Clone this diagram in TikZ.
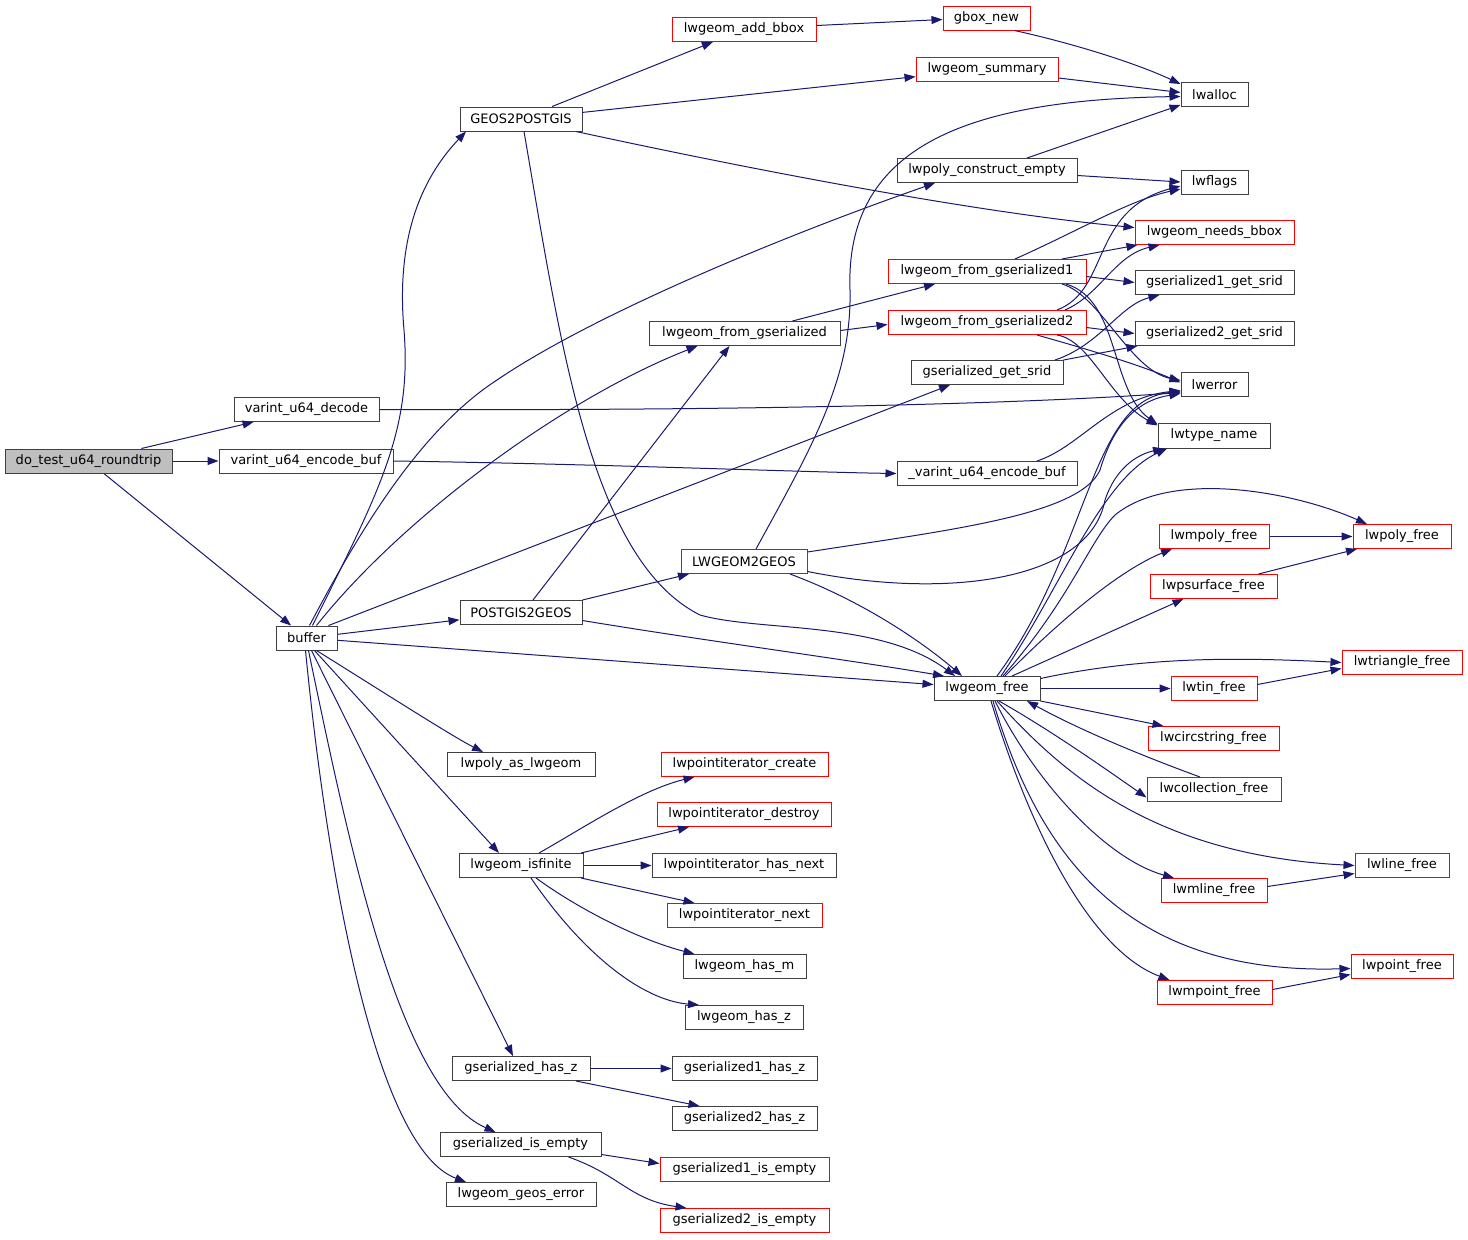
\documentclass[tikz,border=0pt]{standalone}
\usepackage{fontspec}
\setmainfont{DejaVu Sans}
\usetikzlibrary{arrows.meta}
\definecolor{edgecol}{RGB}{25,25,112}
\definecolor{rootfill}{RGB}{191,191,191}
\begin{document}
\begin{tikzpicture}[x=1pt,y=-1pt,
  box/.style={draw=black!75, line width=1pt, minimum height=24pt, inner sep=0pt, fill=white, font=\fontsize{13}{15}\selectfont},
  rbox/.style={box, draw=red},
  e/.style={draw=edgecol, line width=1pt, -{Triangle[length=11pt,width=8pt]}},
]
\useasboundingbox (0,0) rectangle (1468,1240);
% nodes
\node[box, fill=rootfill, minimum width=167pt] (do) at (88.5,461) {do\_test\_u64\_roundtrip};
\node[box, minimum width=145pt] (vdec) at (306.5,409.5) {varint\_u64\_decode};
\node[box, minimum width=174pt] (venc) at (306,461) {varint\_u64\_encode\_buf};
\node[box, minimum width=61pt] (buffer) at (306.5,638) {buffer};
\node[box, minimum width=122pt] (g2p) at (521,119) {GEOS2POSTGIS};
\node[rbox, minimum width=144pt] (addbbox) at (744,29.5) {lwgeom\_add\_bbox};
\node[rbox, minimum width=87pt] (gboxnew) at (986.5,18) {gbox\_new};
\node[rbox, minimum width=142pt] (summary) at (987,69) {lwgeom\_summary};
\node[box, minimum width=67pt] (lwalloc) at (1214.5,94.5) {lwalloc};
\node[box, minimum width=180pt] (pce) at (987,170.5) {lwpoly\_construct\_empty};
\node[box, minimum width=67pt] (lwflags) at (1214.5,182) {lwflags};
\node[rbox, minimum width=159pt] (needsbbox) at (1214.5,232.5) {lwgeom\_needs\_bbox};
\node[rbox, minimum width=198pt] (fg1) at (987,271.5) {lwgeom\_from\_gserialized1};
\node[box, minimum width=159pt] (g1srid) at (1214.5,282.5) {gserialized1\_get\_srid};
\node[box, minimum width=191pt] (fg) at (744.5,333.5) {lwgeom\_from\_gserialized};
\node[rbox, minimum width=198pt] (fg2) at (987,322.5) {lwgeom\_from\_gserialized2};
\node[box, minimum width=159pt] (g2srid) at (1214.5,333.5) {gserialized2\_get\_srid};
\node[box, minimum width=152pt] (gsrid) at (987,372.5) {gserialized\_get\_srid};
\node[box, minimum width=67pt] (lwerror) at (1214.5,384.5) {lwerror};
\node[box, minimum width=112pt, minimum height=25pt] (lwtype) at (1214,435.5) {lwtype\_name};
\node[box, minimum width=180pt] (uenc) at (987,473.5) {\_varint\_u64\_encode\_buf};
\node[rbox, minimum width=126pt] (l2g) at (744,561.5) {LWGEOM2GEOS};
\node[box, minimum width=122pt] (p2g) at (521,612.5) {POSTGIS2GEOS};
\node[box, minimum width=106pt] (lwfree) at (987,688.5) {lwgeom\_free};
\node[rbox, minimum width=110pt] (mpoly) at (1214,536.5) {lwmpoly\_free};
\node[rbox, minimum width=98pt] (poly) at (1402,536.5) {lwpoly\_free};
\node[rbox, minimum width=127pt] (psurf) at (1213.5,586.5) {lwpsurface\_free};
\node[rbox, minimum width=120pt] (tri) at (1402,662.5) {lwtriangle\_free};
\node[rbox, minimum width=86pt] (tin) at (1214,688.5) {lwtin\_free};
\node[rbox, minimum width=131pt] (circ) at (1213.5,738.5) {lwcircstring\_free};
\node[rbox, minimum width=134pt] (coll) at (1214,789.5) {lwcollection\_free};
\node[rbox, minimum width=94pt] (line) at (1402,865.5) {lwline\_free};
\node[rbox, minimum width=106pt] (mline) at (1214,890.5) {lwmline\_free};
\node[rbox, minimum width=102pt] (point) at (1402,966.5) {lwpoint\_free};
\node[rbox, minimum width=115pt] (mpoint) at (1214.5,992.5) {lwmpoint\_free};
\node[box, minimum width=148pt] (pasl) at (521,764.5) {lwpoly\_as\_lwgeom};
\node[box, minimum width=124pt] (isfin) at (521,865.5) {lwgeom\_isfinite};
\node[rbox, minimum width=167pt] (picreate) at (744.5,764.5) {lwpointiterator\_create};
\node[rbox, minimum width=174pt] (pidestroy) at (744,814.5) {lwpointiterator\_destroy};
\node[box, minimum width=184pt] (pihasnext) at (744,865.5) {lwpointiterator\_has\_next};
\node[rbox, minimum width=155pt] (pinext) at (744.5,915.5) {lwpointiterator\_next};
\node[box, minimum width=123pt] (hasm) at (744.5,966.5) {lwgeom\_has\_m};
\node[box, minimum width=118pt] (hasz) at (744,1017.5) {lwgeom\_has\_z};
\node[box, minimum width=138pt] (ghasz) at (521,1068.5) {gserialized\_has\_z};
\node[box, minimum width=145pt] (g1hasz) at (744.5,1068.5) {gserialized1\_has\_z};
\node[box, minimum width=145pt] (g2hasz) at (744.5,1118.5) {gserialized2\_has\_z};
\node[box, minimum width=161pt] (gisempty) at (520.5,1144.5) {gserialized\_is\_empty};
\node[rbox, minimum width=169pt] (g1isempty) at (744.5,1169.5) {gserialized1\_is\_empty};
\node[box, minimum width=150pt] (lgeoserr) at (521,1194.5) {lwgeom\_geos\_error};
\node[rbox, minimum width=169pt] (g2isempty) at (744.5,1220.5) {gserialized2\_is\_empty};
% edges
\draw[e] (do) -- (vdec);
\draw[e] (do) -- (venc);
\draw[e] (do) -- (buffer);
\draw[e] (vdec.east) .. controls (800,411) and (1050,402) .. ([yshift=-8pt]lwerror.west);
\draw[e] (venc.east) .. controls (600,464) and (800,472) .. (uenc.west);
\draw[e] ([xshift=50pt]uenc.north) .. controls (1080,447) and (1110,398) .. ([yshift=-6pt]lwerror.west);
\draw[e] ([xshift=6pt]buffer.north) .. controls (380,490) and (412,430) .. (404,330) .. controls (396,240) and (420,180) .. ([xshift=-55pt]g2p.south);
\draw[e] ([xshift=3pt]buffer.north) .. controls (360,530) and (420,430) .. (497,380) .. controls (600,310) and (800,230) .. ([xshift=-52pt]pce.south);
\draw[e] ([xshift=10pt]buffer.north) .. controls (400,520) and (560,400) .. ([xshift=-47pt]fg.south);
\draw[e] ([xshift=22pt]buffer.north) -- ([xshift=-37pt]gsrid.south);
\draw[e] (buffer) -- (p2g);
\draw[e] (buffer) -- (lwfree);
\draw[e] ([xshift=10pt]buffer.south) .. controls (380,690) and (450,735) .. ([xshift=-38pt]pasl.north);
\draw[e] ([xshift=8pt]buffer.south) -- ([xshift=-22pt]isfin.north);
\draw[e] ([xshift=5pt]buffer.south) -- ([xshift=-8pt]ghasz.north);
\draw[e] ([xshift=2pt]buffer.south) .. controls (350,850) and (400,1090) .. ([xshift=-25pt]gisempty.north);
\draw[e] ([xshift=-1pt]buffer.south) .. controls (330,900) and (380,1150) .. ([xshift=-55pt]lgeoserr.north);
% GEOS2POSTGIS
\draw[e] (g2p) -- (addbbox);
\draw[e] (g2p) -- (summary);
\draw[e] ([xshift=55pt]g2p.south) .. controls (800,180) and (1000,215) .. ([yshift=5pt]needsbbox.west);
\draw[e] ([xshift=3pt]g2p.south) .. controls (560,340) and (590,560) .. (700,615) .. controls (760,632) and (880,620) .. ([xshift=-32pt]lwfree.north);
\draw[e] ([yshift=4pt]addbbox.east) -- ([yshift=-1.5pt]gboxnew.west);
\draw[e] ([xshift=28pt]gboxnew.south) .. controls (1080,45) and (1140,65) .. ([yshift=-2pt]lwalloc.north west);
\draw[e] ([yshift=-9pt]summary.east) -- ([yshift=2pt]lwalloc.west);
\draw[e] ([xshift=40pt]pce.north) -- ([yshift=2pt]lwalloc.south west);
\draw[e] ([yshift=-5pt]pce.east) -- (lwflags.west);
% from_gserialized
\draw[e] ([xshift=48pt]fg.north) -- ([xshift=-52pt]fg1.south);
\draw[e] ([yshift=3pt]fg.east) -- ([yshift=-2pt]fg2.west);
\draw[e] ([xshift=28pt]fg1.north) .. controls (1080,230) and (1130,200) .. ([yshift=-7pt]lwflags.west);
\draw[e] ([xshift=75pt]fg1.north) -- ([xshift=3pt]needsbbox.south west);
\draw[e] ([yshift=-5pt]fg1.east) -- (g1srid.west);
\draw[e] ([xshift=75pt]fg1.south) .. controls (1100,295) and (1130,370) .. ([yshift=4pt]lwerror.west);
\draw[e] ([xshift=79pt]fg1.south) .. controls (1120,300) and (1110,390) .. ([yshift=-2pt]lwtype.north west);
\draw[e] ([xshift=70pt]fg2.north) .. controls (1110,290) and (1090,210) .. ([yshift=-4pt]lwflags.west);
\draw[e] ([xshift=78pt]fg2.north) .. controls (1100,295) and (1115,255) .. ([xshift=-55pt]needsbbox.south);
\draw[e] ([yshift=-5pt]fg2.east) -- (g2srid.west);
\draw[e] ([xshift=50pt]fg2.south) .. controls (1090,350) and (1140,365) .. ([yshift=2pt]lwerror.west);
\draw[e] ([xshift=70pt]fg2.south) .. controls (1090,340) and (1110,400) .. ([yshift=-3pt]lwtype.north west);
\draw[e] ([xshift=68pt]gsrid.north) .. controls (1100,345) and (1120,305) .. ([xshift=-55pt]g1srid.south);
\draw[e] (gsrid.north east) -- ([xshift=3pt]g2srid.south west);
% POSTGIS2GEOS
\draw[e] ([xshift=12pt]p2g.north) -- ([xshift=-15pt]fg.south);
\draw[e] (p2g.north east) -- ([xshift=-55pt]l2g.south);
\draw[e] ([yshift=-8pt]p2g.east) .. controls (700,640) and (850,660) .. ([xshift=-43pt]lwfree.north);
% LWGEOM2GEOS
\draw[e] ([xshift=12pt]l2g.north) .. controls (810,450) and (852,380) .. (850,290) .. controls (845,150) and (960,100) .. ([yshift=-2pt]lwalloc.west);
\draw[e] ([yshift=-3pt]l2g.north east) .. controls (950,530) and (1080,515) .. (1100,470) .. controls (1115,420) and (1140,400) .. ([yshift=-9pt]lwerror.west);
\draw[e] ([yshift=-10pt]l2g.east) .. controls (950,600) and (1090,580) .. (1105,500) .. controls (1115,470) and (1135,455) .. ([xshift=-50pt]lwtype.south);
\draw[e] ([xshift=46pt]l2g.south) .. controls (860,600) and (920,640) .. ([xshift=-25pt]lwfree.north);
% lwgeom_free
\draw[e] ([xshift=10pt]lwfree.north) .. controls (1090,550) and (1090,400) .. ([yshift=-7pt]lwerror.west);
\draw[e] ([xshift=14pt]lwfree.north) .. controls (1060,590) and (1100,480) .. ([xshift=-47pt]lwtype.south);
\draw[e] ([xshift=16pt]lwfree.north) .. controls (1070,600) and (1090,540) .. (1115,515) .. controls (1170,470) and (1290,490) .. ([xshift=-35pt]poly.north);
\draw[e] ([xshift=18pt]lwfree.north) .. controls (1060,620) and (1120,570) .. ([xshift=-42pt]mpoly.south);
\draw[e] ([xshift=25pt]lwfree.north) -- ([xshift=-30pt]psurf.south);
\draw[e] ([yshift=10pt]lwfree.east) .. controls (1150,655) and (1250,658) .. (tri.west);
\draw[e] (lwfree.east) -- (tin.west);
\draw[e] (lwfree.south east) -- ([xshift=-50pt]circ.north);
\draw[e] ([xshift=-14pt]coll.north) .. controls (1140,755) and (1080,730) .. ([xshift=40pt]lwfree.south);
\draw[e] ([xshift=12pt]lwfree.south) .. controls (1050,730) and (1100,765) .. ([yshift=-8pt]coll.west);
\draw[e] ([xshift=10pt]lwfree.south) .. controls (1060,770) and (1150,855) .. (line.west);
\draw[e] ([xshift=8pt]lwfree.south) .. controls (1040,790) and (1110,860) .. ([xshift=-40pt]mline.north);
\draw[e] ([xshift=6pt]lwfree.south) .. controls (1040,860) and (1130,975) .. ([yshift=-2pt]point.west);
\draw[e] ([xshift=4pt]lwfree.south) .. controls (1030,830) and (1090,950) .. ([xshift=-45pt]mpoint.north);
\draw[e] (mpoly.east) -- (poly.west);
\draw[e] ([xshift=45pt]psurf.north) -- ([xshift=-45pt]poly.south);
\draw[e] ([yshift=4pt]tin.east) -- ([yshift=-6pt]tri.west);
\draw[e] ([yshift=4pt]mline.east) -- ([yshift=-8pt]line.west);
\draw[e] ([yshift=3pt]mpoint.east) -- ([yshift=-8pt]point.west);
% isfinite
\draw[e] ([xshift=18pt]isfin.north) .. controls (580,830) and (640,790) .. ([xshift=-50pt]picreate.south);
\draw[e] ([xshift=60pt]isfin.north) -- ([xshift=-55pt]pidestroy.south);
\draw[e] (isfin.east) -- (pihasnext.west);
\draw[e] ([xshift=60pt]isfin.south) -- ([xshift=-50pt]pinext.north);
\draw[e] ([xshift=15pt]isfin.south) .. controls (580,910) and (640,940) .. ([xshift=-50pt]hasm.north);
\draw[e] ([xshift=10pt]isfin.south) .. controls (580,950) and (640,1000) .. ([xshift=-45pt]hasz.north);
% serialized
\draw[e] (ghasz.east) -- (g1hasz.west);
\draw[e] ([xshift=55pt]ghasz.south) -- ([xshift=-45pt]g2hasz.north);
\draw[e] ([yshift=-10pt]gisempty.east) -- ([yshift=6pt]g1isempty.west);
\draw[e] ([xshift=48pt]gisempty.south) .. controls (620,1175) and (630,1200) .. ([xshift=-58pt]g2isempty.north);
\end{tikzpicture}
\end{document}
